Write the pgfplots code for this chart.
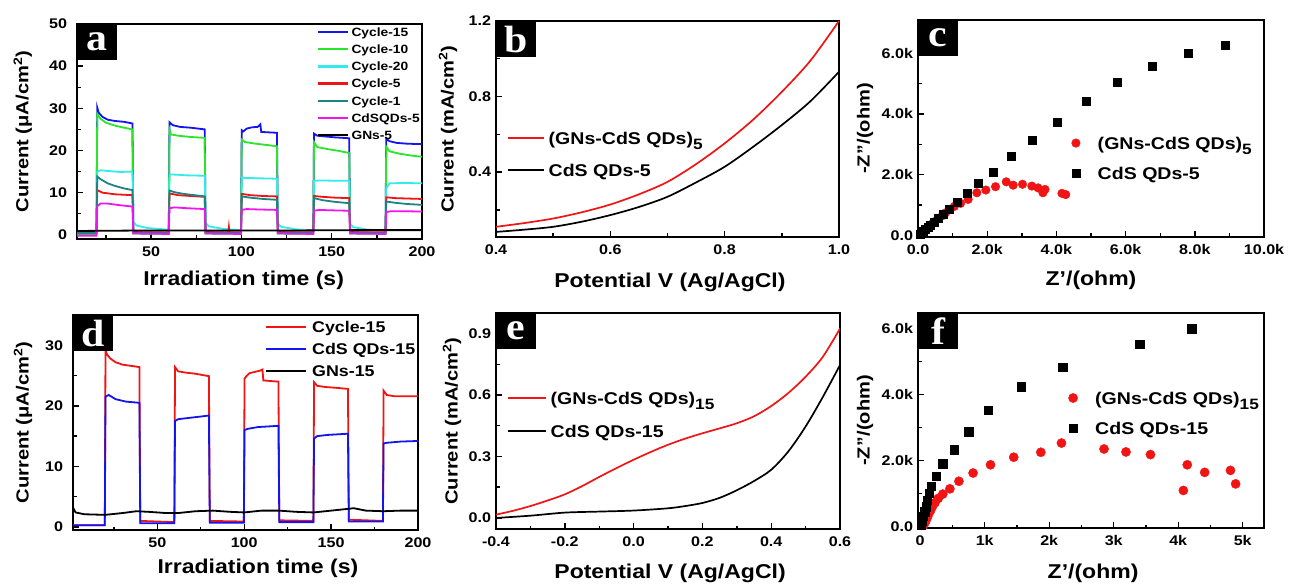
\documentclass[border=0pt]{standalone}
\usepackage{pgfplots}
\pgfplotsset{compat=1.18}
\usepackage{fontspec}
\setmainfont{Liberation Sans}[FakeStretch=1.15]
\newfontfamily\letterfont{Liberation Serif}[FakeStretch=1.1]
\definecolor{cblue}{RGB}{20,20,240}
\definecolor{cgreen}{RGB}{40,230,40}
\definecolor{ccyan}{RGB}{50,235,235}
\definecolor{cred}{RGB}{240,20,20}
\definecolor{cteal}{RGB}{30,130,130}
\definecolor{cmag}{RGB}{240,20,240}
\pgfplotsset{
  panel/.style={
    scale only axis, anchor=south west,
    axis line style={line width=1.6pt},
    every tick/.style={line width=1.4pt, black},
    tick align=inside, xtick pos=left, ytick pos=left,
    major tick length=6pt, minor tick length=3.5pt,
    scaled ticks=false,
    tick label style={font=\fontsize{14}{14}\selectfont\bfseries},
    xticklabel style={yshift=-4pt},
    yticklabel style={xshift=-1.5pt},
    xlabel style={font=\fontsize{20}{20}\selectfont\bfseries, anchor=center},
    ylabel style={font=\fontsize{17.5}{17.5}\selectfont\bfseries, anchor=center},
    legend cell align=left,
  },
}
\tikzset{
  letter/.style={fill=black, text=white, anchor=north west, inner sep=0pt,
    minimum width=40pt, minimum height=36pt,
    font=\letterfont\bfseries\fontsize{38}{38}\selectfont},
}
\begin{document}
\begin{tikzpicture}
\useasboundingbox (0,0) rectangle (1289pt,584pt);

% ---------------- panel a
\begin{axis}[panel, at={(77pt,345pt)}, width=345pt, height=215pt,
  xmin=9, xmax=200, ymin=-1, ymax=50,
  xtick={50,100,150,200}, xticklabels={50,100,150,200}, minor xtick={25,75,125,175},
  ytick={0,10,20,30,40,50}, yticklabels={0,10,20,30,40,50}, minor ytick={5,15,25,35,45},
  yticklabel style={xshift=-5pt},
  xlabel={Irradiation time (s)}, ylabel={Current (μA/cm\textsuperscript{2})},
  xlabel style={at={(axis description cs:0.483,-0.19)}},
  ylabel style={at={(axis description cs:-0.157,0.5)}},
  legend style={draw=none, fill=none, inner sep=0pt, outer sep=0pt,
    at={(axis description cs:0.696,0.983)}, anchor=north west,
    row sep=8.6pt, column sep=2pt,
    font=\fontsize{12}{12}\selectfont\bfseries,
    nodes={inner sep=0pt, text height=8.6pt, text depth=0pt}},
  legend image code/.code={\draw[#1, line width=2.4pt] (0pt,0pt) -- (30pt,0pt);},
  every axis plot/.append style={line width=1.8pt},
]
\addplot[cblue] coordinates {(8,0.5)(19.8,0.5)(20.2,30.2)(21,29)(23,28)(26,27.3)(30,27)(35,26.8)(39.7,26.4)(40.2,1.0)(42,0.6)(59.8,0.4)(60.2,26.7)(62,26)(66,25.6)(72,25.4)(79.7,25)(80.2,1.0)(82,0.6)(99.8,0.4)(100.2,24.8)(101,24.5)(103,25.2)(106,25.5)(109,25.6)(110.5,26.2)(111,24.4)(115,24.3)(119.7,24.2)(120.2,1.0)(122,0.6)(139.8,0.4)(140.2,24)(142,23.5)(147,23.3)(152,23.1)(159.7,22.9)(160.2,1.0)(162,0.6)(179.8,0.4)(180.2,22.8)(182,22.2)(186,21.8)(192,21.6)(200,21.5)};
\addlegendentry{Cycle-15}
\addplot[cgreen] coordinates {(8,0.2)(19.8,0.2)(20.2,28.7)(22,27.5)(25,26.6)(30,25.9)(35,25.4)(39.7,25)(40.2,0.3)(59.8,0.2)(60.2,25)(61,23.8)(65,23.5)(72,23.2)(79.7,23)(80.2,0.3)(99.8,0.2)(100.2,22.6)(102,22)(108,21.6)(114,21.3)(119.7,21)(120.2,0.3)(139.8,0.2)(140.2,22)(142,20.8)(148,20.3)(154,19.9)(159.7,19.4)(160.2,0.3)(179.8,0.2)(180.2,20.9)(182,19.8)(188,19.2)(194,18.8)(200,18.5)};
\addlegendentry{Cycle-10}
\addplot[ccyan] coordinates {(8,0.5)(19.8,0.5)(20.2,15)(22,15.3)(27,15.1)(33,14.9)(39.7,15)(40.2,3.0)(42,2.2)(48,1.6)(59.8,1.2)(60.2,14.3)(62,14.3)(70,14.1)(79.7,14)(80.2,2.8)(82,2.0)(90,1.4)(99.8,1.1)(100.2,13.6)(102,13.5)(110,13.4)(119.7,13.3)(120.2,2.6)(122,1.9)(130,1.3)(139.8,1.0)(140.2,12.8)(145,12.9)(152,12.8)(159.7,12.8)(160.2,2.5)(162,1.8)(170,1.2)(179.8,1.0)(180.2,11)(182,12.2)(190,12.3)(200,12.2)};
\addlegendentry{Cycle-20}
\addplot[cred] coordinates {(8,0.6)(19.8,0.6)(20.2,10.6)(23,10)(30,9.6)(39.7,9.4)(40.2,0.6)(59.8,0.6)(60.2,9.8)(65,9.4)(72,9.2)(79.7,9)(80.2,0.6)(92.8,0.6)(93.1,1.8)(93.4,0.6)(99.8,0.6)(100.2,9.7)(105,9.4)(112,9.2)(119.7,9.1)(120.2,0.6)(139.8,0.6)(140.2,9.2)(145,9.0)(152,8.8)(159.7,8.7)(160.2,0.6)(179.8,0.6)(180.2,8.9)(185,8.7)(192,8.6)(200,8.5)};
\addlegendentry{Cycle-5}
\addplot[cteal] coordinates {(8,0.4)(19.8,0.4)(20.2,13.8)(22,13.2)(26,12.2)(30,11.6)(35,11)(39.7,10.6)(40.2,0.4)(59.8,0.4)(60.2,10.5)(63,10.1)(68,9.7)(74,9.4)(79.7,9.1)(80.2,0.4)(99.8,0.4)(100.2,9.1)(105,8.8)(112,8.5)(119.7,8.3)(120.2,0.4)(139.8,0.4)(140.2,8.7)(145,8.2)(152,7.8)(159.7,7.5)(160.2,0.4)(179.8,0.4)(180.2,7.9)(185,7.6)(192,7.3)(200,7.1)};
\addlegendentry{Cycle-1}
\addplot[cmag] coordinates {(8,-0.2)(19.8,-0.2)(20.2,6.8)(22,7.4)(26,7.4)(33,7.0)(39.7,6.7)(40.2,0.3)(59.8,0.2)(60.2,6.3)(63,6.5)(70,6.3)(79.7,6.1)(80.2,0.3)(99.8,0.2)(100.2,5.9)(103,6.1)(110,6.0)(119.7,5.9)(120.2,0.3)(139.8,0.2)(140.2,5.7)(143,5.9)(150,5.8)(159.7,5.7)(160.2,0.3)(179.8,0.2)(180.2,5.4)(183,5.6)(190,5.6)(200,5.5)};
\addlegendentry{CdSQDs-5}
\addplot[black] coordinates {(8,0.9)(40,1.0)(80,1.0)(120,1.0)(160,1.1)(200,1.1)};
\addlegendentry{GNs-5}
\node[letter] at (rel axis cs:0,1) {a};
\end{axis}

% ---------------- panel b
\begin{axis}[panel, at={(496pt,347pt)}, width=343pt, height=216pt,
  xmin=0.4, xmax=1.0, ymin=0.056, ymax=1.2,
  xtick={0.4,0.6,0.8,1.0}, xticklabels={0.4,0.6,0.8,1.0}, minor xtick={0.5,0.7,0.9},
  ytick={0.4,0.8,1.2}, yticklabels={0.4,0.8,1.2}, minor ytick={0.2,0.6,1.0},
  xlabel={Potential V (Ag/AgCl)}, ylabel={Current (mA/cm\textsuperscript{2})},
  xlabel style={at={(axis description cs:0.507,-0.208)}},
  ylabel style={at={(axis description cs:-0.14,0.5)}},
  legend style={draw=none, fill=none, inner sep=0pt, outer sep=0pt,
    at={(axis description cs:0.032,0.487)}, anchor=north west,
    row sep=19.8pt, column sep=4pt,
    font=\fontsize{17}{17}\selectfont\bfseries,
    nodes={inner sep=0pt, text height=12.2pt, text depth=0pt}},
  legend image code/.code={\draw[#1, line width=1.7pt] (0pt,0pt) -- (36pt,0pt);},
  every axis plot/.append style={line width=1.7pt, smooth},
]
\addplot[cred] coordinates {(0.4,0.110)(0.45,0.130)(0.5,0.154)(0.55,0.187)(0.6,0.228)(0.65,0.282)(0.7,0.348)(0.75,0.442)(0.8,0.552)(0.85,0.678)(0.9,0.825)(0.95,0.99)(1.0,1.2)};
\addlegendentry{(GNs-CdS QDs)\raisebox{-5pt}[0pt][0pt]{\fontsize{15}{15}\selectfont 5}}
\addplot[black] coordinates {(0.4,0.083)(0.45,0.095)(0.5,0.110)(0.55,0.137)(0.6,0.172)(0.65,0.215)(0.7,0.269)(0.75,0.345)(0.8,0.428)(0.85,0.534)(0.9,0.649)(0.95,0.775)(1.0,0.931)};
\addlegendentry{CdS QDs-5}
\node[letter] at (rel axis cs:0,1) {b};
\end{axis}

% ---------------- panel c
\begin{axis}[panel, at={(918pt,347pt)}, width=346pt, height=217pt,
  xmin=0, xmax=10000, ymin=-60, ymax=7100,
  xtick={0,2000,4000,6000,8000,10000}, xticklabels={0.0,2.0k,4.0k,6.0k,8.0k,10.0k},
  minor xtick={1000,3000,5000,7000,9000},
  ytick={0,2000,4000,6000}, yticklabels={0.0,2.0k,4.0k,6.0k}, minor ytick={1000,3000,5000},
  xlabel={Z'/(ohm)}, ylabel={-Z{'}{'}/(ohm)},
  xlabel style={at={(axis description cs:0.5,-0.198)}},
  ylabel style={at={(axis description cs:-0.153,0.5)}},
  legend style={draw=none, fill=none, inner sep=0pt, outer sep=0pt,
    at={(axis description cs:0.444,0.461)}, anchor=north west,
    row sep=17.8pt, column sep=17.5pt,
    font=\fontsize{17}{17}\selectfont\bfseries,
    nodes={inner sep=0pt, text height=12.2pt, text depth=0pt}},
  legend image code/.code={\draw[#1] plot coordinates {(4.5pt,0pt)};},
]
\addplot[only marks, mark=*, mark size=4.3pt, cred] coordinates {(70,30)(110,70)(160,120)(220,180)(280,240)(350,310)(420,380)(500,460)(600,550)(700,640)(800,740)(920,850)(1050,950)(1230,1050)(1450,1180)(1700,1400)(1960,1490)(2240,1600)(2550,1760)(2750,1650)(3020,1680)(3290,1620)(3470,1560)(3670,1510)(3610,1400)(4160,1380)(4270,1340)};
\addlegendentry{(GNs-CdS QDs)\raisebox{-5pt}[0pt][0pt]{\fontsize{15}{15}\selectfont 5}}
\addplot[only marks, mark=square*, mark size=4pt, black] coordinates {(50,30)(90,70)(140,120)(200,190)(280,260)(360,340)(460,440)(580,560)(720,700)(900,870)(1130,1100)(1420,1380)(1750,1710)(2170,2090)(2700,2610)(3290,3140)(4020,3740)(4850,4410)(5750,5040)(6760,5580)(7820,6000)(8890,6280)};
\addlegendentry{CdS QDs-5}
\node[letter] at (rel axis cs:0,1) {c};
\end{axis}

% ---------------- panel d
\begin{axis}[panel, at={(73pt,54pt)}, width=345pt, height=215pt,
  xmin=1.5, xmax=200, ymin=-0.5, ymax=35,
  xtick={50,100,150,200}, xticklabels={50,100,150,200}, minor xtick={25,75,125,175},
  ytick={0,10,20,30}, yticklabels={0,10,20,30}, minor ytick={5,15,25},
  yticklabel style={xshift=-5pt},
  xlabel={Irradiation time (s)}, ylabel={Current (μA/cm\textsuperscript{2})},
  xlabel style={at={(axis description cs:0.536,-0.177)}},
  ylabel style={at={(axis description cs:-0.145,0.5)}},
  legend style={draw=none, fill=none, inner sep=0pt, outer sep=0pt,
    at={(axis description cs:0.557,0.970)}, anchor=north west,
    row sep=10.9pt, column sep=5pt,
    font=\fontsize{15.5}{15.5}\selectfont\bfseries,
    nodes={inner sep=0pt, text height=11.1pt, text depth=0pt}},
  legend image code/.code={\draw[#1, line width=2pt] (0pt,0pt) -- (40pt,0pt);},
  every axis plot/.append style={line width=1.8pt},
]
\addplot[cred] coordinates {(1.5,0.3)(19.8,0.3)(20.2,29.3)(21,28.5)(23,27.8)(26,27.2)(30,26.8)(35,26.6)(39.7,26.4)(40.2,1.0)(59.8,0.8)(60.2,26.4)(62,25.7)(66,25.5)(72,25.3)(79.7,24.9)(80.2,1.0)(99.8,0.9)(100.2,24.5)(101,24.8)(103,25.4)(106,25.6)(109,25.8)(110.5,26)(111,24.2)(115,24.1)(119.7,24.0)(120.2,1.1)(139.8,1.0)(140.2,23.9)(142,23.3)(147,23.1)(152,23.0)(159.7,22.8)(160.2,1.2)(179.8,1.0)(180.2,22.5)(182,21.8)(186,21.6)(192,21.6)(200,21.6)};
\addlegendentry{Cycle-15}
\addplot[cblue] coordinates {(1.5,0.3)(19.8,0.3)(20.2,21.5)(22,21.8)(26,21.1)(32,20.7)(39.7,20.5)(40.2,0.6)(59.8,0.6)(60.2,17.5)(62,17.8)(68,18.0)(74,18.2)(79.7,18.4)(80.2,0.7)(99.8,0.7)(100.2,16.0)(102,16.2)(108,16.5)(114,16.6)(119.7,16.7)(120.2,0.8)(139.8,0.8)(140.2,14.6)(142,15.0)(148,15.2)(154,15.3)(159.7,15.4)(160.2,0.9)(179.8,0.9)(180.2,13.8)(182,13.9)(190,14.1)(200,14.2)};
\addlegendentry{CdS QDs-15}
\addplot[black] coordinates {(1.5,3.2)(3,2.4)(8,2.1)(20,2.0)(30,2.3)(38,2.6)(45,2.5)(55,2.3)(62,2.3)(72,2.6)(82,2.7)(92,2.5)(100,2.4)(110,2.7)(120,2.7)(130,2.5)(140,2.4)(150,2.7)(160,3.0)(163,3.1)(170,2.7)(180,2.6)(190,2.7)(200,2.7)};
\addlegendentry{GNs-15}
\node[letter] at (rel axis cs:0,1) {d};
\end{axis}

% ---------------- panel e
\begin{axis}[panel, at={(496pt,55pt)}, width=344pt, height=216pt,
  xmin=-0.4, xmax=0.6, ymin=-0.054, ymax=1.0,
  xtick={-0.4,-0.2,0,0.2,0.4,0.6}, xticklabels={-0.4,-0.2,0.0,0.2,0.4,0.6},
  minor xtick={-0.3,-0.1,0.1,0.3,0.5},
  ytick={0,0.3,0.6,0.9}, yticklabels={0.0,0.3,0.6,0.9}, minor ytick={0.15,0.45,0.75},
  xlabel={Potential V (Ag/AgCl)}, ylabel={Current (mA/cm\textsuperscript{2})},
  xlabel style={at={(axis description cs:0.506,-0.204)}},
  ylabel style={at={(axis description cs:-0.128,0.5)}},
  legend style={draw=none, fill=none, inner sep=0pt, outer sep=0pt,
    at={(axis description cs:0.032,0.635)}, anchor=north west,
    row sep=20.8pt, column sep=4pt,
    font=\fontsize{17}{17}\selectfont\bfseries,
    nodes={inner sep=0pt, text height=12.2pt, text depth=0pt}},
  legend image code/.code={\draw[#1, line width=1.7pt] (0pt,0pt) -- (38pt,0pt);},
  every axis plot/.append style={line width=1.7pt, smooth},
]
\addplot[cred] coordinates {(-0.4,0.016)(-0.35,0.035)(-0.3,0.058)(-0.25,0.085)(-0.2,0.115)(-0.15,0.155)(-0.1,0.200)(-0.05,0.243)(0.0,0.284)(0.05,0.322)(0.1,0.357)(0.15,0.387)(0.2,0.413)(0.25,0.437)(0.3,0.462)(0.35,0.496)(0.4,0.546)(0.45,0.610)(0.5,0.689)(0.55,0.786)(0.6,0.924)};
\addlegendentry{(GNs-CdS QDs)\raisebox{-5pt}[0pt][0pt]{\fontsize{15}{15}\selectfont 15}}
\addplot[black] coordinates {(-0.4,0.0)(-0.3,0.011)(-0.2,0.026)(-0.1,0.031)(0.0,0.036)(0.1,0.047)(0.15,0.058)(0.2,0.073)(0.25,0.098)(0.3,0.135)(0.35,0.18)(0.4,0.235)(0.45,0.325)(0.5,0.446)(0.55,0.59)(0.6,0.746)};
\addlegendentry{CdS QDs-15}
\node[letter] at (rel axis cs:0,1) {e};
\end{axis}

% ---------------- panel f
\begin{axis}[panel, at={(918pt,56pt)}, width=346pt, height=215pt,
  xmin=-34, xmax=5330, ymin=-50, ymax=6480,
  xtick={0,1000,2000,3000,4000,5000}, xticklabels={0,1k,2k,3k,4k,5k},
  minor xtick={500,1500,2500,3500,4500},
  ytick={0,2000,4000,6000}, yticklabels={0.0,2.0k,4.0k,6.0k}, minor ytick={1000,3000,5000},
  xlabel={Z'/(ohm)}, ylabel={-Z{'}{'}/(ohm)},
  xlabel style={at={(axis description cs:0.506,-0.209)}},
  ylabel style={at={(axis description cs:-0.153,0.5)}},
  legend style={draw=none, fill=none, inner sep=0pt, outer sep=0pt,
    at={(axis description cs:0.435,0.633)}, anchor=north west,
    row sep=17.8pt, column sep=17.5pt,
    font=\fontsize{17}{17}\selectfont\bfseries,
    nodes={inner sep=0pt, text height=12.2pt, text depth=0pt}},
  legend image code/.code={\draw[#1] plot coordinates {(4.5pt,0pt)};},
]
\addplot[only marks, mark=*, mark size=4.6pt, cred] coordinates {(50,30)(70,100)(90,180)(110,270)(130,370)(160,480)(190,600)(230,720)(280,850)(350,980)(460,1140)(600,1370)(820,1620)(1090,1870)(1450,2100)(1870,2250)(2190,2530)(2850,2350)(3190,2260)(3570,2180)(4080,1090)(4140,1870)(4410,1640)(4810,1700)(4890,1290)};
\addlegendentry{(GNs-CdS QDs)\raisebox{-5pt}[0pt][0pt]{\fontsize{15}{15}\selectfont 15}}
\addplot[only marks, mark=square*, mark size=4.2pt, black] coordinates {(20,50)(30,150)(50,300)(70,450)(90,600)(110,800)(140,1000)(170,1220)(250,1520)(350,1900)(530,2330)(750,2870)(1050,3530)(1570,4240)(2210,4840)(3400,5540)(4210,6000)};
\addlegendentry{CdS QDs-15}
\node[letter] at (rel axis cs:0,1) {f};
\end{axis}
\end{tikzpicture}
\end{document}
